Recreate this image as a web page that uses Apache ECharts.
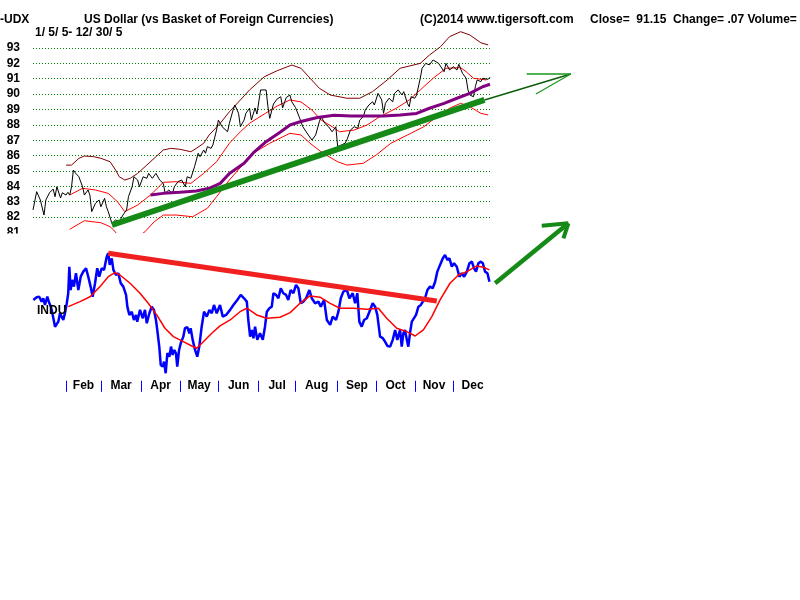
<!DOCTYPE html>
<html><head><meta charset="utf-8">
<script src="https://cdn.jsdelivr.net/npm/echarts@6/dist/echarts.min.js"></script>
<style>html,body{margin:0;padding:0;background:#fff}#c{width:800px;height:600px}</style>
</head><body><div id="c"></div>
<script>
// x = trading day index (0 = 1/5/05 ... 249 = 12/30/05)
const monthNames = ['Feb','Mar','Apr','May','Jun','Jul','Aug','Sep','Oct','Nov','Dec'];
const monthStartDays = [18,37,59,80,101,123,143,166,187,208,229];
const lastDay = 249;
const projDay = 300;
const udxTicks = [81,82,83,84,85,86,87,88,89,90,91,92,93];

const udxClose = [[0,82.46],[2,83.65],[4,83.11],[6,82.13],[7,83.11],[9,83.58],[11,83.82],[12,83.32],[13,83.97],[15,83.24],[16,83.58],[18,83.43],[19,83.61],[20,83.43],[21,83.97],[22,85.06],[23,84.88],[25,84.62],[27,83.97],[28,83.43],[30,83.76],[31,83.43],[32,82.35],[34,82.89],[35,82.78],[36,83.11],[37,82.67],[39,83.22],[40,82.67],[41,82.35],[43,81.59],[45,81.81],[47,81.69],[49,82.13],[51,82.46],[52,83.32],[54,83.97],[55,84.62],[57,84.41],[58,83.97],[60,84.62],[62,84.52],[63,84.84],[65,84.52],[67,84.84],[69,84.41],[71,84.19],[72,83.54],[74,83.76],[76,83.54],[77,83.97],[79,84.30],[81,84.41],[83,83.97],[84,84.62],[86,84.52],[88,85.27],[90,86.15],[91,85.93],[93,86.36],[94,86.15],[95,86.58],[97,86.47],[98,86.69],[100,87.66],[101,88.31],[103,87.88],[104,87.99],[106,87.55],[107,88.10],[109,88.96],[110,89.29],[112,88.75],[113,87.88],[115,88.31],[116,88.75],[118,89.08],[119,88.31],[121,89.10],[122,88.70],[124,90.27],[125,90.38],[127,90.27],[128,89.18],[129,88.42],[131,89.35],[133,89.68],[135,89.83],[136,89.10],[138,89.78],[140,89.94],[141,89.50],[143,89.13],[145,88.53],[147,87.88],[150,87.34],[152,87.01],[154,87.34],[156,88.20],[157,88.53],[159,88.10],[161,87.88],[163,87.55],[165,87.88],[166,86.58],[168,86.69],[170,86.80],[171,87.01],[173,87.66],[175,87.88],[177,87.77],[178,88.31],[180,88.53],[181,88.96],[183,89.29],[185,89.50],[186,89.29],[188,90.05],[190,89.62],[191,88.75],[192,89.40],[194,89.73],[196,89.50],[197,90.05],[199,90.27],[201,89.94],[202,90.16],[204,89.40],[205,89.18],[206,89.83],[208,89.73],[209,89.94],[211,91.03],[212,91.68],[214,92.00],[216,91.90],[218,92.22],[219,92.33],[221,92.00],[222,92.11],[224,91.46],[225,92.00],[227,91.57],[229,91.78],[231,91.57],[232,91.94],[234,91.35],[236,91.03],[237,90.27],[238,89.94],[240,89.83],[241,90.48],[242,90.92],[244,90.81],[245,91.03],[246,91.13],[248,90.96],[249,91.10]];

const upperBand = [[18,85.38],[21,85.38],[25,85.82],[28,85.97],[33,85.93],[37,85.82],[42,85.60],[45,85.06],[47,84.62],[50,84.41],[53,84.52],[57,84.84],[62,85.38],[67,85.93],[71,86.36],[75,86.47],[80,86.41],[86,86.25],[89,86.47],[93,86.80],[96,87.34],[102,88.10],[107,88.85],[113,89.62],[118,90.27],[126,91.13],[133,91.52],[141,91.89],[146,91.68],[151,91.03],[156,90.38],[162,89.94],[171,89.73],[178,89.73],[185,90.16],[193,90.92],[200,91.68],[211,92.00],[216,92.54],[222,93.08],[227,93.74],[233,94.06],[238,93.85],[244,93.34],[248,93.20]];

const middleMA = [[20,83.43],[27,83.87],[34,83.76],[41,83.54],[46,83.00],[50,82.35],[57,82.78],[64,83.43],[71,84.26],[78,84.30],[86,84.19],[93,84.84],[100,85.60],[107,86.80],[113,87.55],[118,88.10],[126,88.70],[133,89.22],[140,89.62],[146,89.49],[152,88.96],[157,88.31],[163,87.88],[167,87.55],[175,87.66],[182,87.99],[189,88.53],[198,89.08],[205,89.62],[211,90.27],[218,91.03],[225,91.68],[233,91.72],[236,91.46],[240,91.03],[247,90.92]];

const lowerBand = [[20,81.20],[28,81.76],[37,81.63],[42,81.37],[44,81.15],[50,80.29],[57,80.72],[61,81.04],[66,81.69],[71,82.13],[78,82.13],[87,82.02],[95,82.57],[100,83.32],[107,84.41],[115,85.50],[121,86.23],[129,86.80],[140,87.45],[146,87.34],[151,86.80],[158,86.15],[166,85.60],[171,85.38],[180,85.50],[187,86.04],[195,86.80],[204,87.34],[213,87.88],[220,88.53],[227,89.08],[233,89.40],[238,89.18],[244,88.75],[248,88.64]];

const ma50 = [[64,83.43],[71,83.54],[80,83.61],[89,83.69],[96,83.87],[102,84.19],[107,84.84],[115,85.50],[120,86.17],[127,86.90],[135,87.55],[140,87.99],[146,88.22],[155,88.48],[164,88.62],[173,88.57],[182,88.57],[191,88.57],[200,88.64],[209,88.74],[216,89.08],[224,89.40],[231,89.73],[238,90.05],[245,90.48],[249,90.64]];

const udxTrend = [[43,81.48],[246,89.62]];
const udxTrendExt = [[246,89.62],[293,91.31]];
const udxHeadA = [[269,91.31],[293,91.31]];
const udxHeadB = [[274,90.01],[293,91.31]];

const indu = [[0.2,10579],[2.0,10600],[3.4,10604],[4.7,10566],[5.6,10592],[6.5,10540],[7.8,10604],[8.9,10553],[9.8,10527],[11.1,10437],[12.0,10372],[12.9,10360],[13.8,10411],[14.7,10476],[15.6,10450],[16.5,10424],[17.4,10476],[18.4,10553],[19.2,10631],[19.8,10836],[20.5,10656],[21.3,10734],[22.3,10682],[23.4,10785],[24.7,10656],[26.0,10759],[27.4,10798],[28.9,10824],[30.1,10759],[31.4,10682],[32.5,10604],[33.8,10708],[35.0,10824],[36.1,10759],[37.4,10824],[38.7,10811],[40.2,10914],[41.0,10940],[41.8,10850],[42.9,10901],[43.8,10811],[45.2,10772],[46.5,10785],[47.8,10708],[49.2,10682],[50.7,10618],[51.4,10527],[52.5,10463],[53.8,10488],[55.0,10424],[56.1,10463],[56.8,10411],[58.3,10502],[59.8,10437],[61.0,10502],[62.0,10399],[63.4,10476],[64.7,10527],[65.9,10502],[67.0,10424],[67.7,10347],[68.8,10218],[69.6,10076],[70.7,10063],[71.4,10102],[72.3,10012],[73.2,10167],[74.3,10140],[75.2,10218],[76.1,10154],[77.0,10192],[77.9,10167],[78.6,10063],[79.6,10192],[80.5,10244],[81.9,10295],[82.8,10360],[84.1,10368],[85.2,10321],[85.9,10360],[87.0,10270],[88.3,10192],[89.5,10140],[90.6,10218],[91.9,10372],[93.2,10488],[94.7,10450],[96.1,10502],[97.4,10476],[98.6,10540],[100.1,10476],[101.9,10540],[103.4,10450],[105.2,10463],[107.4,10502],[109.2,10540],[111.3,10579],[113.2,10618],[115.0,10592],[116.5,10566],[117.3,10424],[118.3,10295],[119.2,10347],[120.1,10283],[121.0,10372],[122.2,10270],[123.7,10321],[125.2,10270],[126.4,10372],[127.4,10488],[128.8,10515],[130.1,10527],[131.0,10631],[132.4,10618],[133.7,10592],[135.0,10669],[136.4,10631],[137.9,10618],[139.1,10579],[140.4,10656],[141.9,10631],[143.3,10695],[144.6,10669],[145.9,10553],[147.3,10566],[148.8,10592],[150.6,10656],[151.9,10592],[153.7,10553],[155.5,10566],[156.8,10527],[158.6,10579],[160.1,10424],[161.9,10386],[163.3,10450],[165.1,10424],[166.4,10488],[167.7,10592],[169.1,10643],[171.0,10656],[172.4,10592],[174.2,10631],[175.5,10553],[176.7,10631],[177.8,10411],[179.1,10372],[180.4,10424],[181.9,10437],[183.3,10488],[185.1,10553],[186.4,10527],[187.6,10463],[189.1,10295],[190.6,10283],[191.8,10256],[193.1,10223],[194.6,10218],[196.0,10270],[197.3,10347],[198.5,10270],[200.0,10347],[200.9,10218],[201.8,10321],[202.7,10347],[203.7,10270],[204.5,10218],[205.4,10321],[206.4,10411],[207.2,10424],[208.7,10463],[210.0,10527],[211.3,10540],[212.4,10566],[213.6,10592],[214.9,10656],[216.3,10682],[217.8,10669],[219.1,10720],[220.3,10798],[221.8,10850],[223.3,10901],[224.5,10927],[225.8,10888],[226.9,10901],[228.2,10836],[229.4,10863],[230.9,10836],[232.3,10759],[233.6,10785],[234.9,10759],[236.4,10798],[237.8,10863],[239.1,10875],[240.3,10824],[241.4,10798],[242.7,10863],[244.0,10875],[245.1,10863],[246.3,10798],[247.6,10785],[248.7,10720]];

const induMA = [[19.2,10527],[25.6,10566],[31.1,10604],[36.5,10682],[41.0,10759],[44.7,10790],[47.4,10772],[52.9,10708],[58.3,10631],[62.8,10553],[67.4,10463],[71.9,10360],[76.5,10295],[81.9,10256],[86.5,10223],[89.2,10205],[92.8,10256],[97.4,10321],[101.9,10378],[107.4,10424],[112.8,10488],[116.5,10515],[121.9,10463],[127.4,10437],[134.6,10445],[140.1,10481],[145.5,10553],[150.9,10610],[156.4,10600],[161.9,10553],[167.3,10515],[174.5,10515],[181.9,10507],[188.2,10515],[192.7,10437],[198.2,10360],[203.7,10334],[208.2,10300],[212.7,10347],[217.3,10450],[221.8,10579],[227.2,10708],[231.8,10772],[236.4,10798],[241.8,10842],[245.4,10832],[248.7,10811]];

const induTrend = [[41,10940],[220,10571]];
const induArrow = [[251.8,10708],[291.7,11172]];
const induHeadA = [[277.2,11153],[291.7,11172]];
const induHeadB = [[289,11056],[291.7,11172]];

const FONT = 'Liberation Sans';
const txt = {fontFamily: FONT, fontWeight: 'bold', fontSize: 12, color: '#000'};

// month labels sit halfway between month boundaries
const monthEnds = monthStartDays.slice(1).concat([lastDay + 1]);
const monthLabelDays = monthStartDays.map((s, i) => (s + monthEnds[i]) / 2);

// shared pixel scales
const PLOT_LEFT = 33, PLOT_W = 457;
const PX_PER_DAY = PLOT_W / lastDay;
const TOP_Y = 48, TOP_H = 184.4;
const BOT_Y = 245.5, BOT_H = 129.3;
const PROJ_W = PX_PER_DAY * projDay;
const BOT_EXT_H = BOT_H * 1.2;

function ln(data, color, width, axis, extra) {
  return Object.assign({
    type: 'line', data: data, symbol: 'none', silent: true, animation: false,
    xAxisIndex: axis, yAxisIndex: axis,
    lineStyle: {color: color, width: width}
  }, extra || {});
}

const chart = echarts.init(document.getElementById('c'), null, {renderer: 'canvas'});
chart.setOption({
  backgroundColor: '#fff',
  animation: false,
  title: [
    {text: '-UDX', left: 0, top: 14, padding: 0, textStyle: txt},
    {text: 'US Dollar (vs Basket of Foreign Currencies)', left: 84, top: 14, padding: 0, textStyle: txt},
    {text: '1/ 5/ 5- 12/ 30/ 5', left: 35, top: 27, padding: 0, textStyle: txt},
    {text: '(C)2014 www.tigersoft.com', left: 420, top: 14, padding: 0, textStyle: txt},
    {text: 'Close=  91.15  Change= .07 Volume=', left: 590, top: 14, padding: 0, textStyle: txt},
    {text: 'INDU', left: 37, top: 305, padding: 0, textStyle: txt}
  ],
  grid: [
    {left: PLOT_LEFT, top: TOP_Y, width: PLOT_W, height: TOP_H},
    {left: PLOT_LEFT, top: BOT_Y, width: PLOT_W, height: BOT_H},
    {left: PLOT_LEFT, top: TOP_Y, width: PROJ_W, height: TOP_H},
    {left: PLOT_LEFT, top: BOT_Y + BOT_H - BOT_EXT_H, width: PROJ_W, height: BOT_EXT_H}
  ],
  xAxis: [
    {gridIndex: 0, type: 'value', min: 0, max: lastDay, show: false},
    {gridIndex: 1, type: 'value', min: 0, max: lastDay, offset: 6,
     axisLine: {show: false}, splitLine: {show: false},
     axisTick: {show: true, customValues: monthStartDays, length: 11, lineStyle: {color: '#0000ff', width: 1}},
     axisLabel: Object.assign({customValues: monthLabelDays, margin: -1,
       formatter: function (v) {
         for (let i = 0; i < monthLabelDays.length; i++) if (Math.abs(monthLabelDays[i] - v) < 1e-6) return monthNames[i];
         return '';
       }}, txt)},
    {gridIndex: 2, type: 'value', min: 0, max: projDay, show: false},
    {gridIndex: 3, type: 'value', min: 0, max: projDay, show: false}
  ],
  yAxis: [
    {gridIndex: 0, type: 'value', min: 81, max: 93, interval: 1,
     axisLine: {show: false}, axisTick: {show: false},
     axisLabel: Object.assign({customValues: udxTicks, margin: 13}, txt),
     splitLine: {show: true, showMinLine: false, lineStyle: {color: '#008000', width: 1, type: [1, 2]}}},
    {gridIndex: 1, type: 'value', min: 10000, max: 11000, show: false, splitLine: {show: false}},
    {gridIndex: 2, type: 'value', min: 81, max: 93, show: false, splitLine: {show: false}},
    {gridIndex: 3, type: 'value', min: 10000, max: 11200, show: false, splitLine: {show: false}}
  ],
  graphic: [
    {type: 'rect', shape: {x: 0, y: 233.5, width: 32, height: 9}, style: {fill: '#fff'}, z: 100}
  ],
  series: [
    ln(upperBand, '#800000', 1, 0, {clip: false}),
    ln(lowerBand, '#ff0000', 1, 0, {clip: true}),
    ln(middleMA, '#ff0000', 1, 0),
    ln(udxClose, '#000000', 1, 0),
    ln(ma50, '#800080', 3, 0),
    ln(udxTrendExt, '#0b5e0b', 1.5, 2, {clip: false}),
    ln(udxTrend, '#168a16', 6, 0, {clip: false}),
    ln(udxHeadA, '#1a961a', 1.5, 2, {clip: false}),
    ln(udxHeadB, '#1a961a', 1.2, 2, {clip: false}),
    ln(indu, '#0000ff', 2.5, 1),
    ln(induMA, '#ff0000', 1.5, 1),
    ln(induTrend, '#f02020', 5, 1, {clip: false}),
    ln(induArrow, '#168a16', 4.5, 3, {clip: false}),
    ln(induHeadA, '#168a16', 4, 3, {clip: false}),
    ln(induHeadB, '#168a16', 4, 3, {clip: false})
  ]
});
</script>
</body></html>
